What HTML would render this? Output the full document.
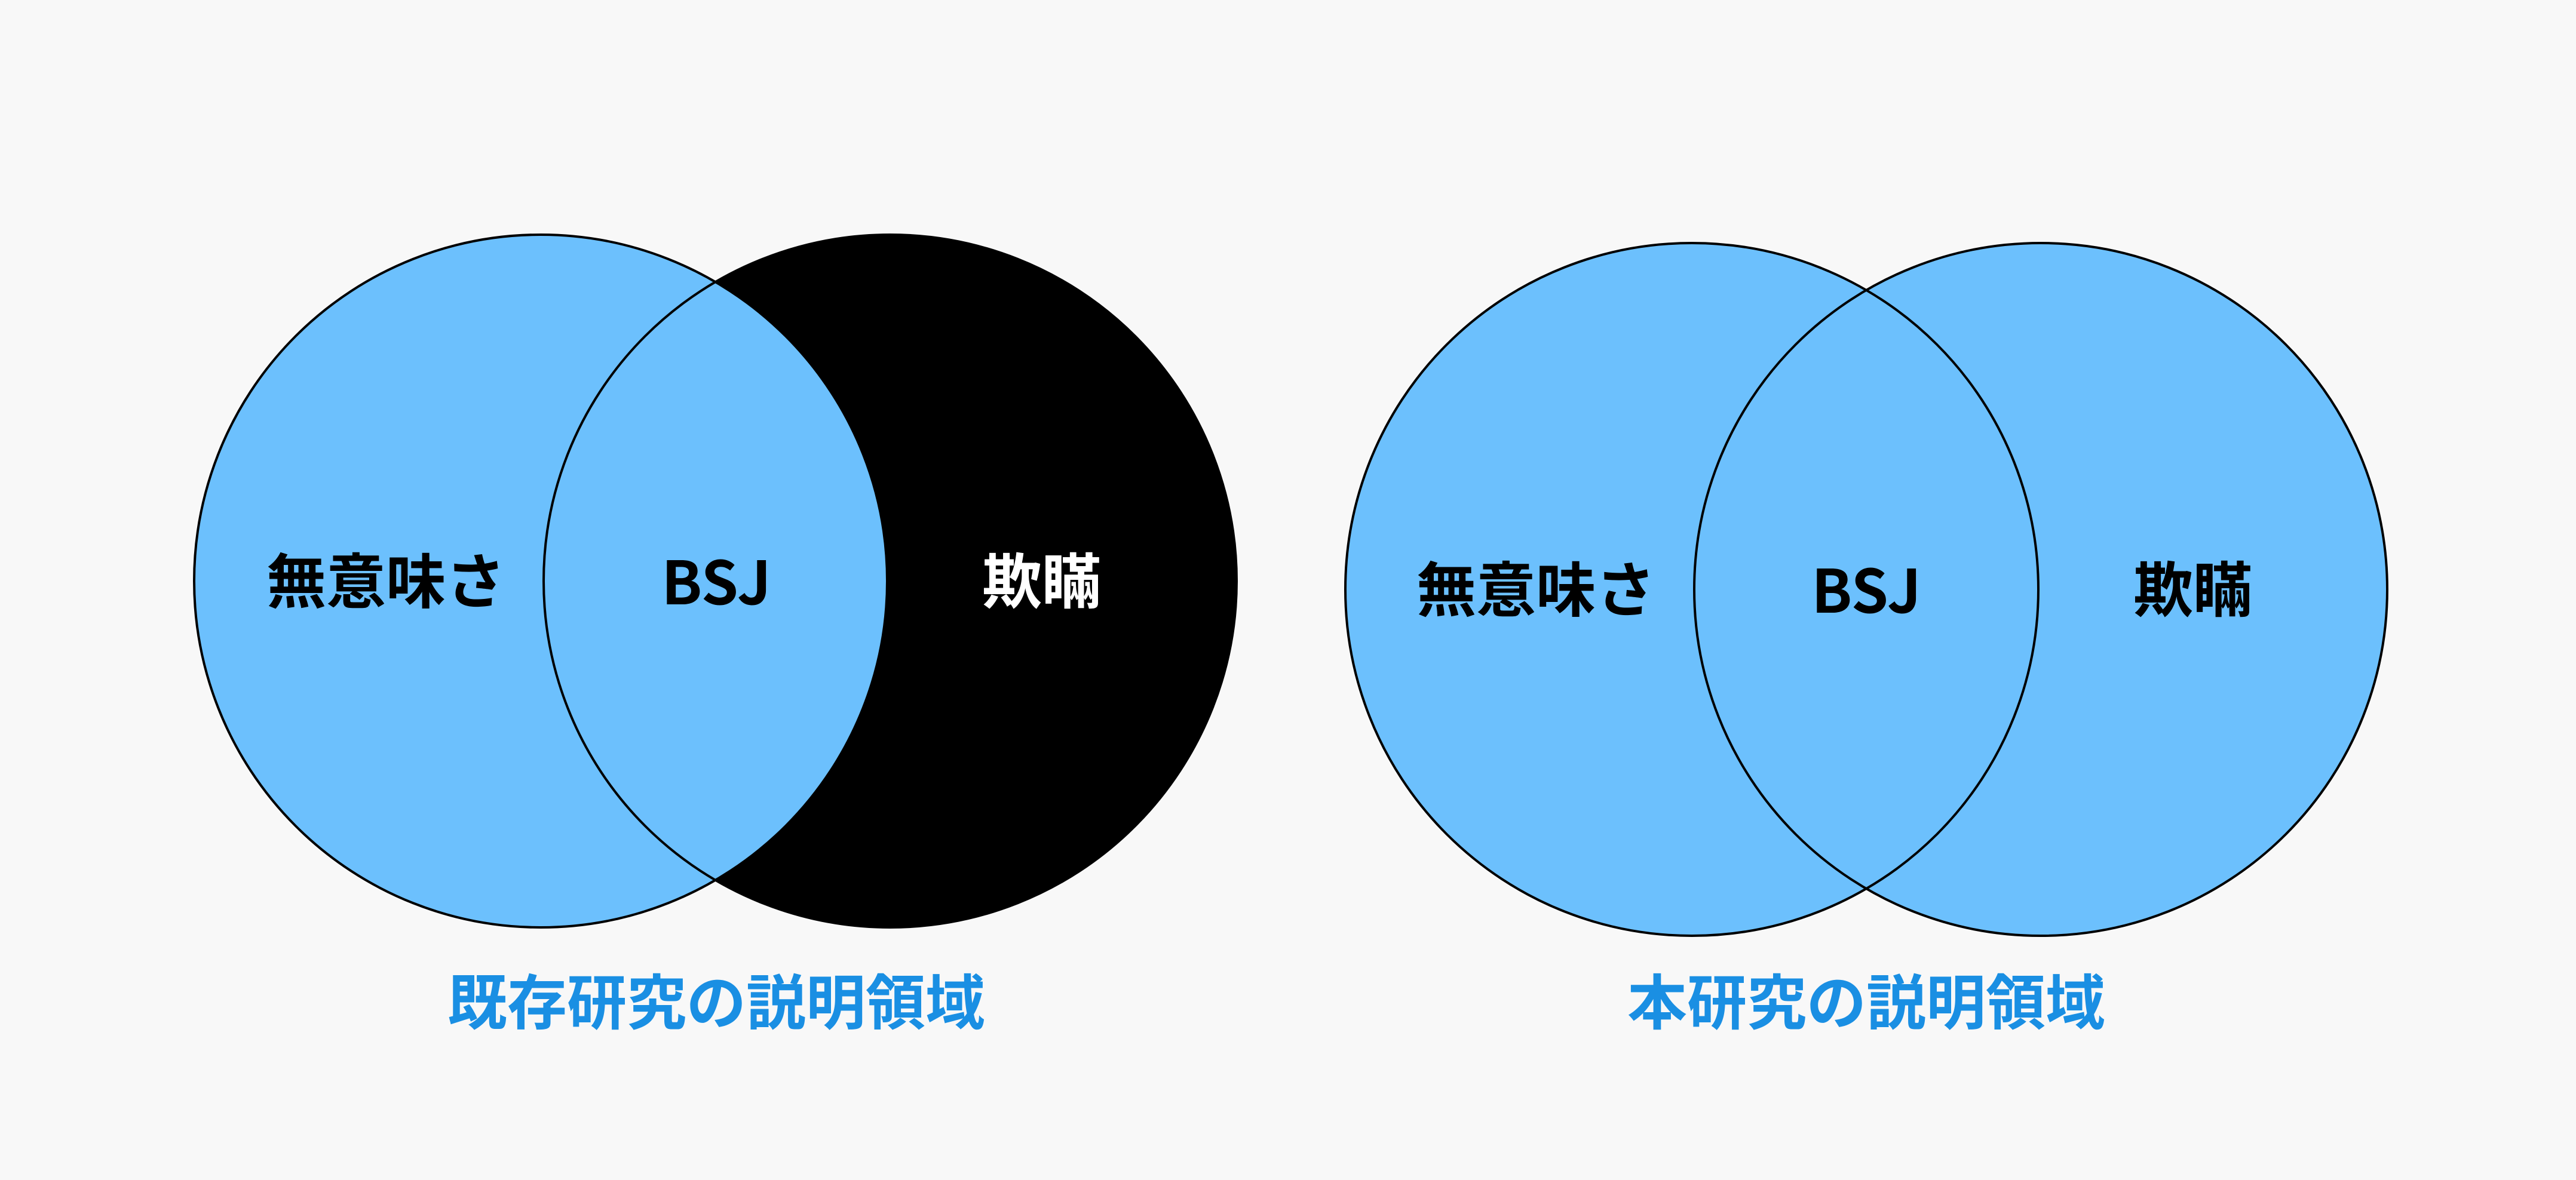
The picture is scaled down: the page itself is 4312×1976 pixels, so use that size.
<!DOCTYPE html>
<html><head><meta charset="utf-8"><style>
html,body{margin:0;padding:0;background:#f8f8f8;}
svg{display:block}
text{font-family:"Liberation Sans","Noto Sans CJK JP",sans-serif;font-weight:bold;}
text.n{font-family:"Noto Sans CJK JP",sans-serif;}
</style></head><body>
<svg width="4312" height="1976" viewBox="0 0 4312 1976" xmlns="http://www.w3.org/2000/svg">
<rect width="4312" height="1976" fill="#f8f8f8"/>
<circle cx="1490" cy="973" r="580" fill="#000"/>
<circle cx="905" cy="973" r="580" fill="#6cc0fd"/>
<circle cx="1490" cy="973" r="580" fill="none" stroke="#000" stroke-width="4"/>
<circle cx="905" cy="973" r="580" fill="none" stroke="#000" stroke-width="4"/>
<text x="646" y="1010" font-size="100" text-anchor="middle" fill="#000">無意味さ</text>
<text class="n" x="1199" y="1012" font-size="100" text-anchor="middle" fill="#000">BSJ</text>
<text x="1744" y="1010" font-size="100" text-anchor="middle" fill="#fff">欺瞞</text>
<text x="1199" y="1715" font-size="100" text-anchor="middle" fill="#1a8fe3">既存研究の説明領域</text>
<circle cx="2832" cy="987" r="580" fill="#6cc0fd"/>
<circle cx="3416" cy="987" r="580" fill="#6cc0fd"/>
<circle cx="2832" cy="987" r="580" fill="none" stroke="#000" stroke-width="4"/>
<circle cx="3416" cy="987" r="580" fill="none" stroke="#000" stroke-width="4"/>
<text x="2571" y="1024" font-size="100" text-anchor="middle" fill="#000">無意味さ</text>
<text class="n" x="3124" y="1026" font-size="100" text-anchor="middle" fill="#000">BSJ</text>
<text x="3671" y="1024" font-size="100" text-anchor="middle" fill="#000">欺瞞</text>
<text x="3124" y="1715" font-size="100" text-anchor="middle" fill="#1a8fe3">本研究の説明領域</text>
</svg>
</body></html>
